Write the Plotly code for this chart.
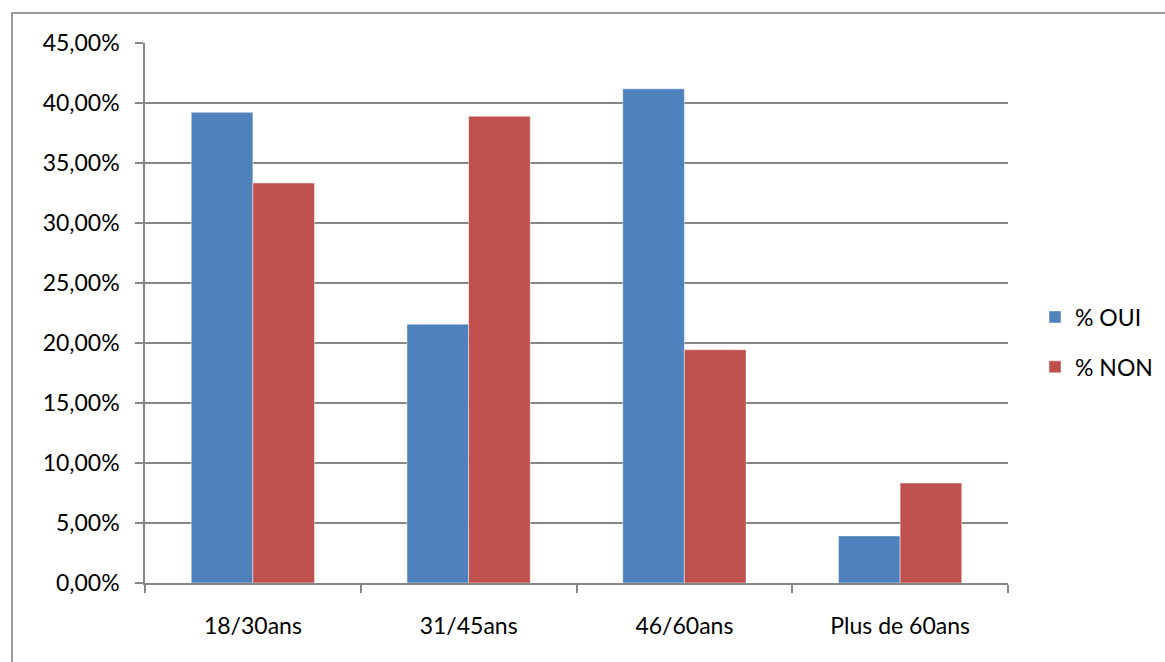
import plotly.graph_objects as go

categories = ["18/30ans", "31/45ans", "46/60ans", "Plus de 60ans"]
oui = [0.3922, 0.2157, 0.4118, 0.0392]
non = [0.3333, 0.3889, 0.1944, 0.0833]
series_names = ["% OUI", "% NON"]
colors = ["#4F81BD", "#C0504D"]

FONT = "Lato, 'Open Sans', sans-serif"
FS = 23

fig = go.Figure()
for name, vals, col, grp in zip(series_names, [oui, non], colors, ["a", "b"]):
    fig.add_trace(go.Bar(
        x=categories, y=vals, name=name, legendgroup=grp,
        marker=dict(color=col, line=dict(color="rgba(255,255,255,0.45)", width=1)),
    ))

W, H = 1165, 662
L, R, T, B = 145, 157, 43, 79
pw, ph = W - L - R, H - T - B

def px(x):
    return (x - L) / pw

def py(y):
    return (H - B - y) / ph

fig.add_shape(type="rect", xref="paper", yref="paper",
              x0=px(12), x1=px(1200), y0=py(700), y1=py(13),
              line=dict(color="#9a9a9a", width=2), fillcolor="rgba(0,0,0,0)", layer="below")

fig.update_layout(
    width=W, height=H,
    margin=dict(l=L, r=R, t=T, b=B, autoexpand=False),
    paper_bgcolor="white", plot_bgcolor="white",
    barmode="group", bargap=0.4286, bargroupgap=0,
    separators=", ",
    font=dict(family=FONT, size=FS, color="#000000"),
    showlegend=True,
    legend=dict(x=px(1035), y=py(342), xanchor="left", yanchor="middle",
                traceorder="grouped", tracegroupgap=17,
                font=dict(family=FONT, size=FS, color="#000000"),
                itemwidth=30, bgcolor="rgba(0,0,0,0)"),
    xaxis=dict(
        type="category", showline=True, linecolor="#868686", linewidth=1.5,
        ticks="outside", tickson="boundaries", ticklen=8, tickcolor="#868686",
        tickwidth=1.5, showgrid=False, tickfont=dict(family=FONT, size=FS),
        ticklabelstandoff=22,
    ),
    yaxis=dict(
        range=[0, 0.45], dtick=0.05, tickformat=".2%",
        showline=True, linecolor="#868686", linewidth=1.5,
        ticks="outside", ticklen=8, tickcolor="#868686", tickwidth=1.5,
        showgrid=True, gridcolor="#868686", gridwidth=1.5,
        zeroline=False, tickfont=dict(family=FONT, size=FS),
        ticklabelstandoff=11,
    ),
)

fig.write_html("out.html", config={"displayModeBar": False},
               post_script="document.body.style.margin='0';document.body.style.padding='0';")
